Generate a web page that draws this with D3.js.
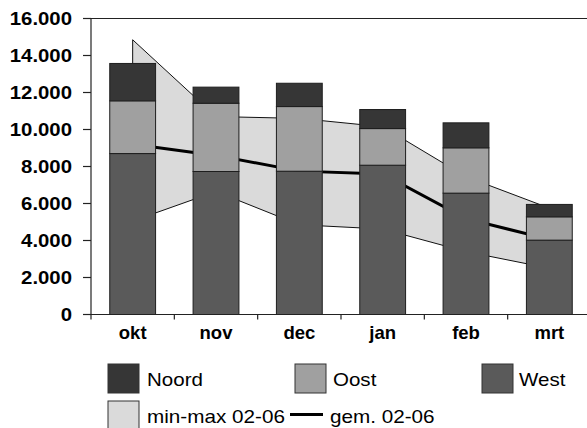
<!DOCTYPE html>
<html><head><meta charset="utf-8">
<script src="https://cdn.jsdelivr.net/npm/d3@7"></script>
<style>
html,body{margin:0;padding:0;background:#fff;}
svg{display:block;}
text{font-family:"Liberation Sans",Arial,sans-serif;fill:#000;}
</style></head>
<body>
<svg id="c" width="587" height="428"></svg>
<script>
const months = ["okt","nov","dec","jan","feb","mrt"];
const west  = [8700, 7730, 7745, 8070, 6560, 4020];
const oost  = [2850, 3690, 3495, 1980, 2450, 1260];
const noord = [2020,  870, 1260, 1030, 1350,  670];
const maxV  = [14850, 10700, 10600, 10150, 7450, 5750];
const gemV  = [9200, 8600, 7750, 7600, 5180, 4060];
const minV  = [5050, 6650, 4850, 4620, 3400, 2500];
const yTicks = [0,2000,4000,6000,8000,10000,12000,14000,16000];
const tickLabels = ["0","2.000","4.000","6.000","8.000","10.000","12.000","14.000","16.000"];
const seriesNames = ["West","Oost","Noord"];
const colors = {West:"#5a5a5a", Oost:"#a0a0a0", Noord:"#363636"};
const areaColor = "#dadada";

const svg = d3.select("#c");
const L = 91, R = 591, T = 18.5, B = 314.5;

const x = d3.scaleBand().domain(months).range([L, R]).padding(0);
const y = d3.scaleLinear().domain([0, 16000]).range([B, T]);
const bw = x.bandwidth();
const barW = bw * 0.55;
const cx = m => x(m) + bw / 2;

const table = months.map((m, i) => ({month: m, West: west[i], Oost: oost[i], Noord: noord[i]}));
const stack = d3.stack().keys(seriesNames)(table);

// min-max area
const band = months.map((m, i) => ({m, lo: minV[i], hi: maxV[i]}));
const area = d3.area().x(d => cx(d.m)).y0(d => y(d.lo)).y1(d => y(d.hi));
svg.append("path").attr("d", area(band) + "Z")
  .attr("fill", areaColor).attr("stroke", "#111").attr("stroke-width", 1);

// mean line
const line = d3.line().x((d, i) => cx(months[i])).y(d => y(d));
svg.append("path").datum(gemV).attr("d", line).attr("fill", "none")
  .attr("stroke", "#000").attr("stroke-width", 3);

// bars
stack.forEach(s => {
  svg.append("g").selectAll("rect").data(s).join("rect")
    .attr("x", d => cx(d.data.month) - barW / 2)
    .attr("width", barW)
    .attr("y", d => y(d[1]))
    .attr("height", d => y(d[0]) - y(d[1]))
    .attr("fill", colors[s.key])
    .attr("stroke", "#1e1e1e").attr("stroke-width", 1);
});

// frame and axes
const ax = svg.append("g").attr("stroke", "#222").attr("stroke-width", 1.2);
ax.append("line").attr("x1", L).attr("x2", R).attr("y1", T).attr("y2", T);
ax.append("line").attr("x1", L).attr("x2", L).attr("y1", T).attr("y2", B);
ax.append("line").attr("x1", L).attr("x2", R).attr("y1", B).attr("y2", B);
ax.selectAll(".yt").data(yTicks).join("line")
  .attr("x1", L - 8).attr("x2", L).attr("y1", d => y(d)).attr("y2", d => y(d));
ax.selectAll(".xt").data(months).join("line")
  .attr("x1", d => x(d)).attr("x2", d => x(d)).attr("y1", B).attr("y2", B + 5);

function txt(g, s, tx, ty, opts) {
  return g.append("text").text(s)
    .attr("transform", `translate(${tx},${ty}) scale(${opts.sx || 1},1)`)
    .style("font-size", opts.size + "px")
    .style("font-weight", opts.weight || "normal")
    .attr("text-anchor", opts.anchor || "start");
}

const gl = svg.append("g");
yTicks.forEach((v, i) => {
  txt(gl, tickLabels[i], 72, y(v) + 6.7, {size: 18.5, weight: "bold", anchor: "end", sx: 1.1});
});
months.forEach(m => {
  txt(gl, m, cx(m), 339, {size: 18.5, weight: "bold", anchor: "middle", sx: 1.0});
});

// legend
const lg = svg.append("g");
const legendItems = [
  {name: "Noord", color: colors.Noord, sx: 108, tx: 147},
  {name: "Oost", color: colors.Oost, sx: 295, tx: 333},
  {name: "West", color: colors.West, sx: 482, tx: 519}
];
legendItems.forEach(it => {
  lg.append("rect").attr("x", it.sx).attr("y", 364).attr("width", 31).attr("height", 29)
    .attr("fill", it.color).attr("stroke", "#333").attr("stroke-width", 1);
  txt(lg, it.name, it.tx, 385.5, {size: 18, sx: 1.14});
});
lg.append("rect").attr("x", 108).attr("y", 401).attr("width", 31).attr("height", 29)
  .attr("fill", areaColor).attr("stroke", "#333").attr("stroke-width", 1);
txt(lg, "min-max 02-06", 147, 422.5, {size: 18, sx: 1.15});
lg.append("line").attr("x1", 290).attr("x2", 323).attr("y1", 414.5).attr("y2", 414.5)
  .attr("stroke", "#000").attr("stroke-width", 3);
txt(lg, "gem. 02-06", 330, 422.5, {size: 18, sx: 1.15});
</script>
</body></html>
